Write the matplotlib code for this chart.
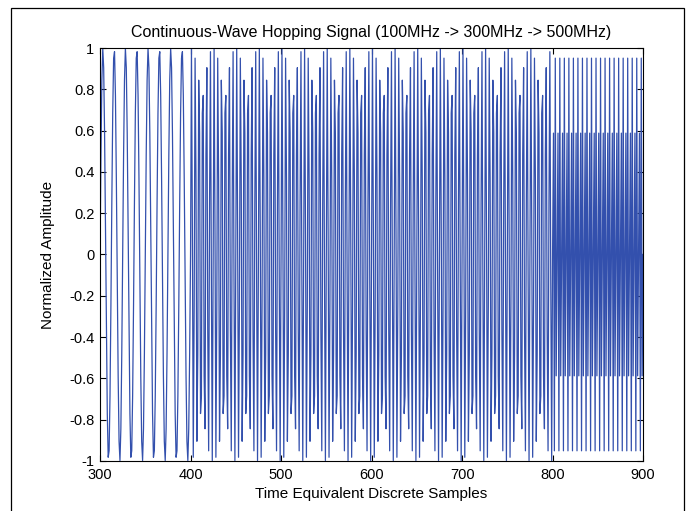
import matplotlib
matplotlib.use('Agg')
import matplotlib.pyplot as plt
from matplotlib.patches import Rectangle
import numpy as np

# hopping plan
hop_freqs_mhz = [100, 300, 500]
hop_starts = [300, 400, 800]
hop_stops = [400, 800, 901]
fs_mhz = 1250  # sample rate that gives the aliasing pattern seen

x_ticks = [300, 400, 500, 600, 700, 800, 900]
y_ticks = [-1, -0.8, -0.6, -0.4, -0.2, 0, 0.2, 0.4, 0.6, 0.8, 1]
y_tick_labels = ['-1', '-0.8', '-0.6', '-0.4', '-0.2', '0', '0.2', '0.4',
                 '0.6', '0.8', '1']

plt.rcParams['font.family'] = ['Liberation Sans', 'DejaVu Sans']

samples = np.arange(hop_starts[0], hop_stops[-1])
freq = np.zeros(samples.size)
for f, a, b in zip(hop_freqs_mhz, hop_starts, hop_stops):
    freq[(samples >= a) & (samples < b)] = f
signal = np.sin(2 * np.pi * freq * samples / fs_mhz)

fig = plt.figure(figsize=(6.9, 5.11), dpi=100, facecolor='w')
ax = fig.add_axes([0.145, 0.098, 0.787, 0.808])

ax.plot(samples, signal, color='#3350ad', linewidth=0.9)

ax.set_xlim(300, 900)
ax.set_ylim(-1, 1)
ax.set_xticks(x_ticks)
ax.set_yticks(y_ticks)
ax.set_yticklabels(y_tick_labels)
ax.tick_params(direction='in', length=4, width=0.8, top=True, right=True,
               labelsize=10.5)
ax.tick_params(axis='x', pad=5)
ax.tick_params(axis='y', pad=4)
for sp in ax.spines.values():
    sp.set_linewidth(0.8)

ax.set_title('Continuous-Wave Hopping Signal (100MHz -> 300MHz -> 500MHz)',
             fontsize=11.5, pad=8)
ax.set_xlabel('Time Equivalent Discrete Samples', fontsize=11, labelpad=4)
ax.set_ylabel('Normalized Amplitude', fontsize=11, labelpad=10)

# outer frame of the original figure
fig.patches.append(Rectangle((11 / 690, -0.05), 673 / 690, 1.05 - 8 / 511,
                             transform=fig.transFigure, fill=False,
                             edgecolor='k', linewidth=0.9))

fig.savefig('out.png', dpi=100)
